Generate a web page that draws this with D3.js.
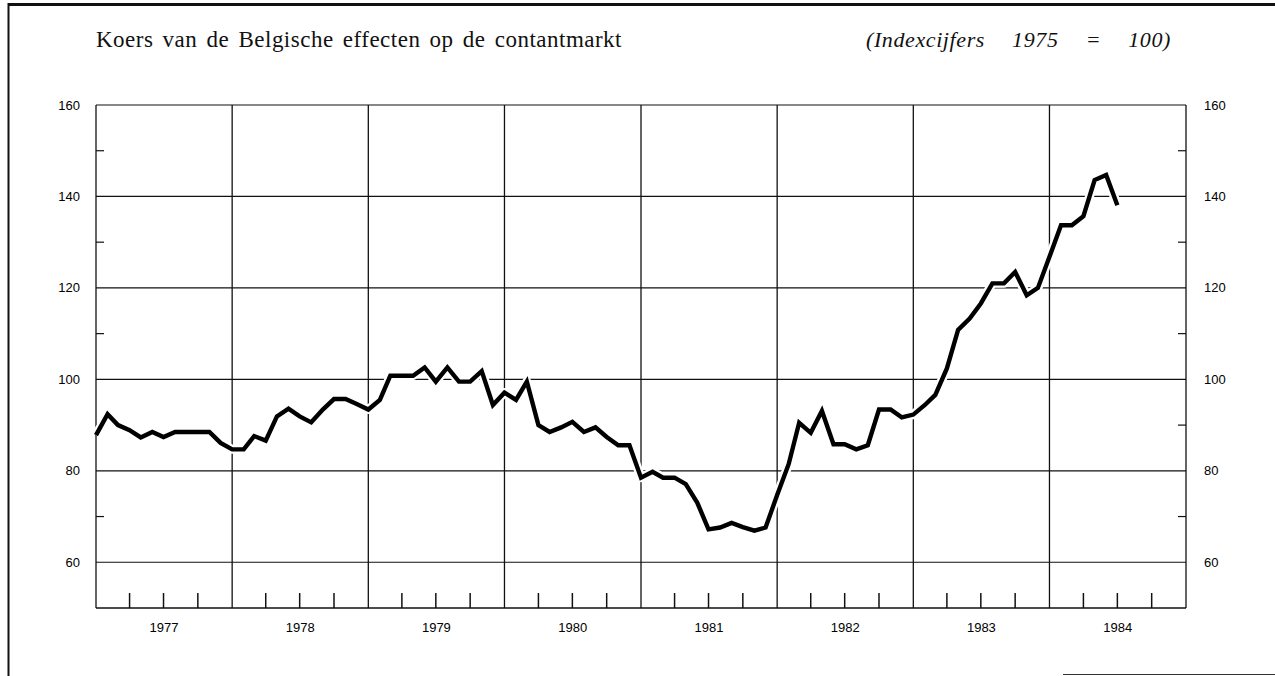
<!DOCTYPE html>
<html>
<head>
<meta charset="utf-8">
<script src="https://cdn.jsdelivr.net/npm/d3@7"></script>
<style>
  html, body { margin: 0; padding: 0; background: #fff; }
  svg { display: block; }
</style>
</head>
<body>
<svg id="chart" width="1275" height="676"></svg>
<script>
// ---- DATA ----
const startYear = 1977;
const years = [1977, 1978, 1979, 1980, 1981, 1982, 1983, 1984];
const yTickLabels = [60, 80, 100, 120, 140, 160];
const yMinorTicks = [70, 90, 110, 130, 150];
// monthly index values, Jan 1977 .. Jul 1984
const values1977 = [87.8, 92.4, 90.0, 88.9, 87.3, 88.5, 87.4, 88.5, 88.5, 88.5, 88.5, 86.1];
const values1978 = [84.7, 84.7, 87.6, 86.6, 91.9, 93.6, 91.9, 90.6, 93.4, 95.7, 95.7, 94.6];
const values1979 = [93.4, 95.5, 100.8, 100.8, 100.8, 102.6, 99.5, 102.6, 99.5, 99.5, 101.8, 94.4];
const values1980 = [97.1, 95.5, 99.5, 90.0, 88.5, 89.5, 90.7, 88.5, 89.5, 87.4, 85.6, 85.6];
const values1981 = [78.5, 79.8, 78.5, 78.5, 77.1, 73.0, 67.2, 67.6, 68.6, 67.7, 66.9, 67.6];
const values1982 = [74.7, 81.5, 90.5, 88.3, 93.1, 85.8, 85.8, 84.7, 85.6, 93.4, 93.4, 91.7];
const values1983 = [92.3, 94.4, 96.6, 102.4, 110.8, 113.3, 116.6, 121.0, 121.0, 123.5, 118.4, 120.0];
const values1984 = [126.8, 133.7, 133.7, 135.7, 143.6, 144.7, 138.1];
const titleText = "Koers van de Belgische effecten op de contantmarkt";
const unitText = "(Indexcijfers 1975 = 100)";

const allValues = [].concat(values1977, values1978, values1979, values1980,
                            values1981, values1982, values1983, values1984);
const series = allValues.map((v, i) => ({ date: new Date(startYear, i, 1), value: v }));

// ---- LAYOUT ----
const svg = d3.select("#chart");
const pLeft = 96, pRight = 1186, pTop = 105, pBottom = 608;

const x = d3.scaleTime()
  .domain([new Date(1977, 0, 1), new Date(1985, 0, 1)])
  .range([pLeft, pRight]);
const y = d3.scaleLinear().domain([50, 160]).range([pBottom, pTop]);

// frame of the page
svg.append("line").attr("x1", 8).attr("x2", 1275).attr("y1", 4.5).attr("y2", 4.5)
  .attr("stroke", "#111").attr("stroke-width", 3);
svg.append("line").attr("x1", 8.5).attr("x2", 8.5).attr("y1", 3).attr("y2", 676)
  .attr("stroke", "#111").attr("stroke-width", 2);
svg.append("line").attr("x1", 1063).attr("x2", 1275).attr("y1", 674.5).attr("y2", 674.5)
  .attr("stroke", "#333").attr("stroke-width", 1.2);

// fit text width: fixed word spacing, remainder as letter spacing
function fitText(sel, target, wordSp) {
  sel.attr("word-spacing", wordSp);
  const natural = sel.node().getComputedTextLength();
  const n = sel.text().length;
  sel.attr("letter-spacing", Math.max(0, (target - natural) / n));
}
// fit text width: fixed letter spacing, remainder as word spacing
function fitWords(sel, target, letterSp) {
  sel.attr("letter-spacing", letterSp);
  const natural = sel.node().getComputedTextLength();
  const spaces = (sel.text().match(/ /g) || []).length;
  sel.attr("word-spacing", Math.max(0, (target - natural) / spaces));
}

// title
const serif = "'Liberation Serif', 'DejaVu Serif', serif";
const title = svg.append("text").attr("x", pLeft).attr("y", 47)
  .attr("font-family", serif)
  .attr("font-size", 23).attr("fill", "#111")
  .text(titleText);
fitText(title, 526, 3);
const unit = svg.append("text").attr("x", 1171).attr("y", 47)
  .attr("text-anchor", "end")
  .attr("font-family", serif)
  .attr("font-style", "italic")
  .attr("font-size", 22).attr("fill", "#111")
  .text(unitText);
fitWords(unit, 305, 0.6);

const g = svg.append("g");

// horizontal gridlines
g.selectAll("line.hgrid").data(yTickLabels).enter().append("line")
  .attr("x1", pLeft).attr("x2", pRight)
  .attr("y1", d => y(d)).attr("y2", d => y(d))
  .attr("stroke", "#111").attr("stroke-width", 1.2);

// vertical year lines
const yearBounds = d3.range(1977, 1986).map(yr => new Date(yr, 0, 1));
g.selectAll("line.vgrid").data(yearBounds).enter().append("line")
  .attr("x1", d => x(d)).attr("x2", d => x(d))
  .attr("y1", pTop).attr("y2", pBottom)
  .attr("stroke", "#111").attr("stroke-width", 1.3);

// bottom axis line
g.append("line").attr("x1", pLeft).attr("x2", pRight).attr("y1", pBottom).attr("y2", pBottom)
  .attr("stroke", "#111").attr("stroke-width", 1.5);

// quarterly ticks
const quarterTicks = [];
years.forEach(yr => [3, 6, 9].forEach(m => quarterTicks.push(new Date(yr, m, 1))));
g.selectAll("line.qtick").data(quarterTicks).enter().append("line")
  .attr("x1", d => x(d)).attr("x2", d => x(d))
  .attr("y1", pBottom).attr("y2", pBottom - 15)
  .attr("stroke", "#111").attr("stroke-width", 1.5);

// y minor ticks inside both edges
g.selectAll("line.ymin-l").data(yMinorTicks).enter().append("line")
  .attr("x1", pLeft).attr("x2", pLeft + 8)
  .attr("y1", d => y(d)).attr("y2", d => y(d))
  .attr("stroke", "#111").attr("stroke-width", 1.2);
g.selectAll("line.ymin-r").data(yMinorTicks).enter().append("line")
  .attr("x1", pRight - 8).attr("x2", pRight)
  .attr("y1", d => y(d)).attr("y2", d => y(d))
  .attr("stroke", "#111").attr("stroke-width", 1.2);

// y labels left and right
const labelFont = "'Liberation Sans', Arial, sans-serif";
g.selectAll("text.yl").data(yTickLabels).enter().append("text")
  .attr("x", pLeft - 16).attr("y", d => y(d)).attr("dy", "0.35em")
  .attr("text-anchor", "end").attr("font-family", labelFont).attr("font-size", 13)
  .attr("fill", "#000").text(d => d);
g.selectAll("text.yr").data(yTickLabels).enter().append("text")
  .attr("x", pRight + 18).attr("y", d => y(d)).attr("dy", "0.35em")
  .attr("text-anchor", "start").attr("font-family", labelFont).attr("font-size", 13)
  .attr("fill", "#000").text(d => d);

// year labels, centred in each year
g.selectAll("text.year").data(years).enter().append("text")
  .attr("x", d => (x(new Date(d, 0, 1)) + x(new Date(d + 1, 0, 1))) / 2)
  .attr("y", 627).attr("dy", "0.35em")
  .attr("text-anchor", "middle").attr("font-family", labelFont).attr("font-size", 13)
  .attr("fill", "#000").text(d => d);

// line
const line = d3.line().x(d => x(d.date)).y(d => y(d.value));
g.append("path").datum(series).attr("d", line)
  .attr("fill", "none").attr("stroke", "#fff").attr("stroke-width", 9)
  .attr("stroke-linejoin", "round");
g.append("path").datum(series).attr("d", line)
  .attr("fill", "none").attr("stroke", "#000").attr("stroke-width", 4.4)
  .attr("stroke-linejoin", "miter").attr("stroke-miterlimit", 3);
</script>
</body>
</html>
